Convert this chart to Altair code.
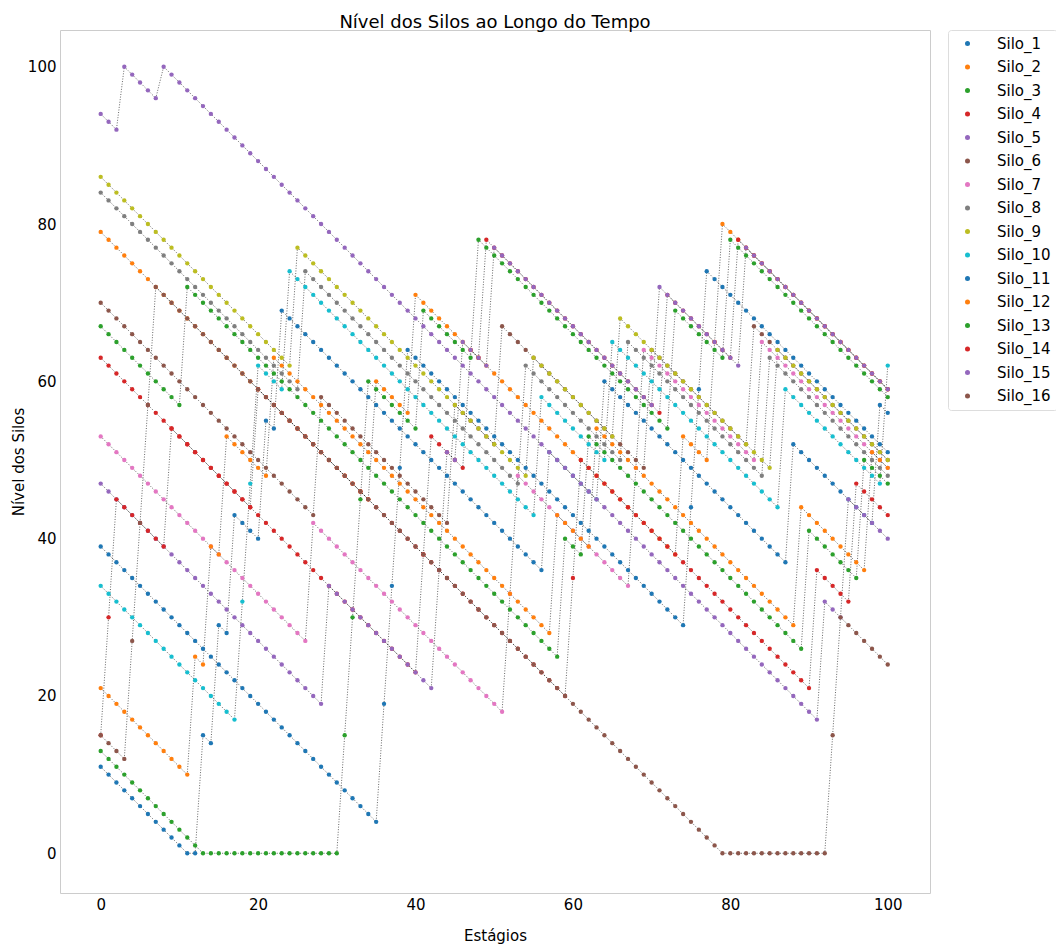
import altair as alt
import pandas as pd

silo_1 = [39,38,37,36,35,34,33,32,31,30,29,28,27,26,25,24,23,22,21,20,19,18,17,16,15,14,13,12,11,10,9,8,7,6,5,4,19,34,49,64,63,62,61,60,59,58,57,56,55,54,53,52,51,50,49,48,47,46,45,44,43,42,41,40,39,38,37,36,35,34,33,32,31,30,29,44,59,74,73,72,71,70,69,68,67,66,65,64,63,62,61,60,59,58,57,56,55,54,53,52,51]
silo_2 = [79,78,77,76,75,74,73,72,71,70,69,68,67,66,65,64,63,62,61,60,59,58,57,56,55,54,53,52,51,50,49,48,47,46,45,60,59,58,57,56,71,70,69,68,67,66,65,64,63,62,61,60,59,58,57,56,55,54,53,52,51,50,49,48,47,46,45,44,43,42,41,40,39,38,53,52,51,50,65,80,79,78,77,76,75,74,73,72,71,70,69,68,67,66,65,64,63,62,61,60,59]
silo_3 = [67,66,65,64,63,62,61,60,59,58,57,72,71,70,69,68,67,66,65,64,63,62,61,60,59,58,57,56,55,54,53,52,51,50,49,48,47,46,45,44,43,42,41,40,39,38,37,36,35,34,33,32,31,30,29,28,27,26,25,40,39,38,53,52,51,50,49,48,47,46,45,44,43,42,41,40,39,38,37,36,35,34,33,32,31,30,29,28,27,26,41,40,39,38,37,36,35,50,49,48,47]
silo_4 = [63,62,61,60,59,58,57,56,55,54,53,52,51,50,49,48,47,46,45,44,43,42,41,40,39,38,37,36,35,34,33,32,31,30,29,28,27,26,25,24,23,38,53,52,51,50,49,64,63,78,77,76,75,74,73,72,71,70,69,68,67,66,65,64,63,62,61,60,59,58,57,56,71,70,69,68,67,66,65,64,63,78,77,76,75,74,73,72,71,70,69,68,67,66,65,64,63,62,61,60,59]
silo_5 = [47,46,45,44,43,42,41,40,39,38,37,36,35,34,33,32,31,30,29,28,27,26,25,24,23,22,21,20,19,34,33,32,31,30,29,28,27,26,25,24,23,22,21,36,51,50,65,64,63,62,77,76,75,74,73,72,71,70,69,68,67,66,65,64,63,62,61,60,59,58,57,72,71,70,69,68,67,66,65,64,63,62,77,76,75,74,73,72,71,70,69,68,67,66,65,64,63,62,61,60,59]
silo_6 = [70,69,68,67,66,65,64,63,62,61,60,59,58,57,56,55,54,53,52,51,50,49,48,47,46,45,44,43,58,57,56,55,54,53,52,51,50,49,48,47,46,45,44,43,42,57,56,55,54,53,52,67,66,65,64,63,62,61,60,59,58,57,56,55,54,53,52,51,50,49,64,63,62,61,60,59,58,57,56,55,54,53,52,67,66,65,64,63,62,61,60,59,58,57,56,55,54,53,52,51,50]
silo_7 = [53,52,51,50,49,48,47,46,45,44,43,42,41,40,39,38,37,36,35,34,33,32,31,30,29,28,27,42,41,40,39,38,37,36,35,34,33,32,31,30,29,28,27,26,25,24,23,22,21,20,19,18,33,48,47,46,45,44,43,42,41,40,39,38,37,36,35,34,49,64,63,62,61,60,59,58,57,56,55,54,53,52,51,50,65,64,63,62,61,60,59,58,57,56,55,54,53,52,51,50,49]
silo_8 = [84,83,82,81,80,79,78,77,76,75,74,73,72,71,70,69,68,67,66,65,64,63,62,61,60,59,74,73,72,71,70,69,68,67,66,65,64,63,62,61,60,59,58,57,56,55,54,53,52,51,50,49,48,47,62,61,60,59,58,57,56,55,54,53,52,51,50,65,64,63,62,61,60,59,58,57,56,55,54,53,52,51,50,49,48,63,62,61,60,59,58,57,56,55,54,53,52,51,50,49,48]
silo_9 = [86,85,84,83,82,81,80,79,78,77,76,75,74,73,72,71,70,69,68,67,66,65,64,63,62,77,76,75,74,73,72,71,70,69,68,67,66,65,64,63,62,61,60,59,58,57,56,55,54,53,52,51,50,49,48,63,62,61,60,59,58,57,56,55,54,53,68,67,66,65,64,63,62,61,60,59,58,57,56,55,54,53,52,51,50,49,64,63,62,61,60,59,58,57,56,55,54,53,52,51,50]
silo_10 = [34,33,32,31,30,29,28,27,26,25,24,23,22,21,20,19,18,17,32,47,62,61,60,59,74,73,72,71,70,69,68,67,66,65,64,63,62,61,60,59,58,57,56,55,54,53,52,51,50,49,48,47,46,45,44,43,58,57,56,55,54,53,52,51,50,65,64,63,62,61,60,59,58,57,56,55,54,53,52,51,50,49,48,47,46,45,44,59,58,57,56,55,54,53,52,51,50,49,48,47,62]
silo_11 = [11,10,9,8,7,6,5,4,3,2,1,0,0,15,14,29,28,43,42,41,40,55,54,69,68,67,66,65,64,63,62,61,60,59,58,57,56,55,54,53,52,51,50,49,48,47,46,45,44,43,42,41,40,39,38,37,36,51,50,49,48,47,46,45,60,59,58,57,56,55,54,53,52,51,50,49,48,47,46,45,44,43,42,41,40,39,38,37,52,51,50,49,48,47,46,45,44,43,42,57,56]
silo_12 = [21,20,19,18,17,16,15,14,13,12,11,10,25,24,39,38,53,52,51,50,49,48,63,62,61,60,59,58,57,56,55,54,53,52,51,50,49,48,47,46,45,44,43,42,41,40,39,38,37,36,35,34,33,32,31,30,29,28,43,42,41,40,39,54,53,52,51,50,49,48,47,46,45,44,43,42,41,40,39,38,37,36,35,34,33,32,31,30,29,44,43,42,41,40,39,38,37,36,51,50,49]
silo_13 = [13,12,11,10,9,8,7,6,5,4,3,2,1,0,0,0,0,0,0,0,0,0,0,0,0,0,0,0,0,0,0,15,30,45,60,59,58,57,56,55,54,69,68,67,66,65,64,63,78,77,76,75,74,73,72,71,70,69,68,67,66,65,64,63,62,61,60,59,58,57,56,55,54,69,68,67,66,65,64,63,78,77,76,75,74,73,72,71,70,69,68,67,66,65,64,63,62,61,60,59,58]
silo_14 = [15,30,45,44,43,42,41,40,39,54,53,52,51,50,49,48,47,46,45,44,59,58,57,56,55,54,53,52,51,50,49,48,47,46,45,44,43,42,41,40,39,38,37,36,35,34,33,32,31,30,29,28,27,26,25,24,23,22,21,20,35,50,49,48,47,46,45,44,43,42,41,40,39,38,37,36,35,34,33,32,31,30,29,28,27,26,25,24,23,22,21,36,35,34,33,32,47,46,45,44,43]
silo_15 = [94,93,92,100,99,98,97,96,100,99,98,97,96,95,94,93,92,91,90,89,88,87,86,85,84,83,82,81,80,79,78,77,76,75,74,73,72,71,70,69,68,67,66,65,64,63,62,61,60,59,58,57,56,55,54,53,52,51,50,49,48,47,46,45,44,43,42,41,40,39,38,37,36,35,34,33,32,31,30,29,28,27,26,25,24,23,22,21,20,19,18,17,32,31,30,45,44,43,42,41,40]
silo_16 = [15,14,13,12,27,42,57,72,71,70,69,68,67,66,65,64,63,62,61,60,59,58,57,56,55,54,53,52,51,50,49,48,47,46,45,44,43,42,41,40,39,38,37,36,35,34,33,32,31,30,29,28,27,26,25,24,23,22,21,20,19,18,17,16,15,14,13,12,11,10,9,8,7,6,5,4,3,2,1,0,0,0,0,0,0,0,0,0,0,0,0,0,0,15,30,29,28,27,26,25,24]

series = [silo_1, silo_2, silo_3, silo_4, silo_5, silo_6, silo_7, silo_8,
          silo_9, silo_10, silo_11, silo_12, silo_13, silo_14, silo_15, silo_16]
names = ["Silo_%d" % (i + 1) for i in range(len(series))]
tab10 = ["#1f77b4", "#ff7f0e", "#2ca02c", "#d62728", "#9467bd",
         "#8c564b", "#e377c2", "#7f7f7f", "#bcbd22", "#17becf"]
colors = [tab10[i % 10] for i in range(len(series))]

rows = []
for k, (name, vals) in enumerate(zip(names, series)):
    for s, v in enumerate(vals):
        rows.append({"Silo": name, "idx": k, "Estagio": s, "Nivel": v})
df = pd.DataFrame(rows)

FONT = "DejaVu Sans"

x_enc = alt.X("Estagio:Q",
              scale=alt.Scale(domain=[-5.17, 105.37], nice=False, zero=False),
              axis=alt.Axis(values=[0, 20, 40, 60, 80, 100], title="Estágios",
                            grid=False, ticks=False, domain=False,
                            labelPadding=4, titlePadding=16, format="d",
                            labelFont=FONT, titleFont=FONT, labelFontSize=15,
                            titleFontSize=15, labelColor="black", titleColor="black",
                            titleFontWeight="normal"))
y_enc = alt.Y("Nivel:Q",
              scale=alt.Scale(domain=[-5.05, 104.67], nice=False, zero=False),
              axis=alt.Axis(values=[0, 20, 40, 60, 80, 100], title="Nível dos Silos",
                            grid=False, ticks=False, domain=False,
                            labelPadding=4, titlePadding=1, format="d",
                            labelFont=FONT, titleFont=FONT, labelFontSize=15,
                            titleFontSize=15, labelColor="black", titleColor="black",
                            titleFontWeight="normal"))

lines = alt.Chart(df).mark_line(
    color="black", strokeWidth=1, strokeDash=[1, 1.6], opacity=0.6
).encode(x=x_enc, y=y_enc, detail="Silo:N", order="Estagio:Q")

points = alt.Chart(df).mark_circle(size=19, opacity=1).encode(
    x=x_enc, y=y_enc,
    color=alt.Color("Silo:N",
                    scale=alt.Scale(domain=names, range=colors),
                    sort=names,
                    legend=alt.Legend(title=None, orient="right", offset=18,
                                      padding=6, symbolOffset=6, labelOffset=22,
                                      rowPadding=7.5, symbolSize=25, symbolType="circle",
                                      labelFontSize=15, labelFont=FONT, labelColor="black",
                                      strokeColor="#dddddd", cornerRadius=3,
                                      fillColor="white")),
)

chart = alt.layer(lines, points).properties(
    width=870, height=863,
    background="white",
    title=alt.TitleParams("Nível dos Silos ao Longo do Tempo", fontSize=18,
                          font=FONT, fontWeight="normal", color="black", offset=-2),
    autosize=alt.AutoSizeParams(type="none"),
    padding={"left": 60, "top": 30, "right": 126, "bottom": 51},
).configure_view(
    stroke="#cccccc", strokeWidth=1
)

chart.save("out.html", embed_options={"renderer": "svg", "actions": False})
